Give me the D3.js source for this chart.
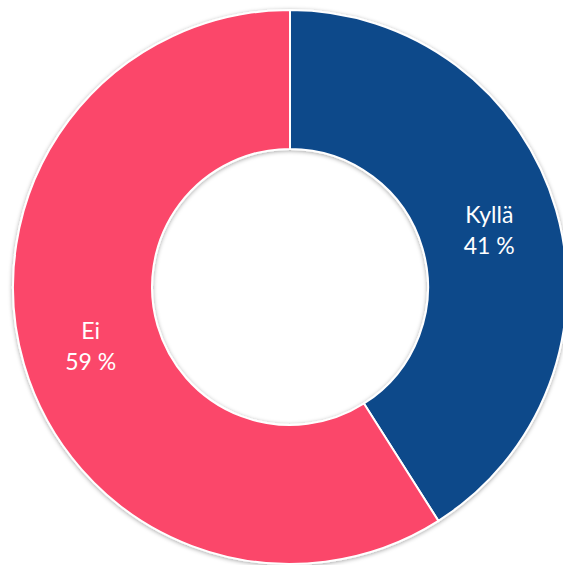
<!DOCTYPE html>
<html><head><meta charset="utf-8">
<script src="https://cdn.jsdelivr.net/npm/d3@7"></script>
<style>body{margin:0;background:#fff;overflow:hidden}</style>
</head><body>
<script>
const categories = ["Kyllä", "Ei"];
const values = [41, 59];
const colors = ["#0E488A", "#FB466A"];

const W = 563, H = 565;
const cx = 290, cy = 287, outerR = 277, innerR = 138;

const svg = d3.select("body").append("svg").attr("width", W).attr("height", H);
const defs = svg.append("defs");
const f = defs.append("filter").attr("id", "sh").attr("x", "-10%").attr("y", "-10%").attr("width", "120%").attr("height", "120%");
f.append("feDropShadow").attr("dx", 0).attr("dy", 1).attr("stdDeviation", 2).attr("flood-color", "#000").attr("flood-opacity", 0.35);

const data = categories.map((c, i) => ({ cat: c, v: values[i], col: colors[i] }));
const pie = d3.pie().value(d => d.v).sort(null);
const arc = d3.arc().innerRadius(innerR).outerRadius(outerR);
const g = svg.append("g").attr("transform", `translate(${cx},${cy})`);

g.append("g").attr("filter", "url(#sh)")
  .selectAll("path").data(pie(data)).join("path")
  .attr("d", arc).attr("fill", d => d.data.col)
  .attr("stroke", "#fff").attr("stroke-width", 2);

const labelArc = d3.arc().innerRadius((innerR + outerR) / 2).outerRadius((innerR + outerR) / 2);
const lab = g.selectAll("text.lab").data(pie(data)).join("text")
  .attr("class", "lab")
  .attr("transform", d => `translate(${labelArc.centroid(d)})`)
  .attr("text-anchor", "middle")
  .attr("fill", "#fff")
  .style("font-family", "Lato, 'Noto Sans', sans-serif")
  .style("font-size", "23px");
lab.append("tspan").attr("x", 0).attr("y", -6).text(d => d.data.cat);
lab.append("tspan").attr("x", 0).attr("y", 25).text(d => d.data.v + " %");
</script>
</body></html>
